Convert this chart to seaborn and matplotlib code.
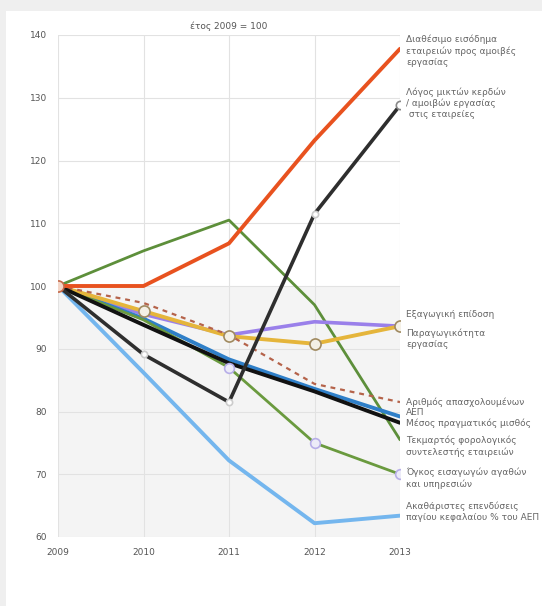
import pandas as pd
import seaborn as sns
import matplotlib.pyplot as plt
from matplotlib.patches import Rectangle

# =========================================================
# 1. DATA (index, year 2009 = 100)
# =========================================================
years = [2009, 2010, 2011, 2012, 2013]

diathesimo = [100, 100, 106.8, 123.2, 137.8]
logos_kerdon = [100, 89.1, 81.5, 111.5, 128.8]
tekmartos = [100, 105.6, 110.5, 97.0, 75.5]
exagogi = [100, 95.5, 92.2, 94.3, 93.6]
paragogikotita = [100, 96.0, 92.0, 90.8, 93.6]
apasxoloumenoi = [100, 97.3, 92.2, 84.4, 81.5]
aep = [100, 94.8, 88.3, 83.6, 79.2]
misthos = [100, 93.8, 87.7, 83.2, 78.2]
eisagoges = [100, 94.6, 87.0, 75.0, 70.0]
ependyseis = [100, 86.2, 72.2, 62.2, 63.4]

series_names = [
    'Διαθέσιμο εισόδημα\nεταιρειών προς αμοιβές\nεργασίας',
    'Λόγος μικτών κερδών\n/ αμοιβών εργασίας\n στις εταιρείες',
    'Τεκμαρτός φορολογικός\nσυντελεστής εταιρειών',
    'Εξαγωγική επίδοση',
    'Παραγωγικότητα\nεργασίας',
    'Αριθμός απασχολουμένων',
    'ΑΕΠ',
    'Μέσος πραγματικός μισθός',
    'Όγκος εισαγωγών αγαθών\nκαι υπηρεσιών',
    'Ακαθάριστες επενδύσεις\nπαγίου κεφαλαίου % του ΑΕΠ',
]
series_values = [diathesimo, logos_kerdon, tekmartos, exagogi, paragogikotita,
                 apasxoloumenoi, aep, misthos, eisagoges, ependyseis]

rows = []
for name, vals in zip(series_names, series_values):
    for yr, v in zip(years, vals):
        rows.append({'Έτος': yr, 'Δείκτης': v, 'Σειρά': name})
df = pd.DataFrame(rows)

# =========================================================
# 2. STYLES
# =========================================================
styles = {
    series_names[0]: dict(color='#e8521f', lw=2.8, z=6),
    series_names[1]: dict(color='#2e2e2e', lw=2.6, z=7),
    series_names[2]: dict(color='#5d8f3a', lw=2.0, z=4),
    series_names[3]: dict(color='#9a80ea', lw=2.6, z=4),
    series_names[4]: dict(color='#e5b53b', lw=2.8, z=5),
    series_names[5]: dict(color='#b5634a', lw=1.6, z=5, ls=(0, (2.2, 2.2))),
    series_names[6]: dict(color='#2f7fc8', lw=2.8, z=4),
    series_names[7]: dict(color='#111111', lw=2.8, z=5),
    series_names[8]: dict(color='#6a9a3e', lw=2.0, z=4),
    series_names[9]: dict(color='#74b6ee', lw=2.8, z=4),
}

# label top positions (data units) on the right side, same order as series_names
label_tops = [140.0, 131.7, 76.1, 96.2, 93.3, 82.2, 80.5, 78.9, 71.0, 65.7]

# =========================================================
# 3. PLOT
# =========================================================
sns.set_theme(style="white")
plt.rcParams['font.family'] = ['DejaVu Sans']

fig = plt.figure(figsize=(5.42, 6.06), dpi=100, facecolor='#efefef')
fig.patches.append(Rectangle((6 / 542, 0), 1, 595 / 606, transform=fig.transFigure,
                             facecolor='white', edgecolor='none', zorder=-10))
ax = fig.add_axes([58 / 542, 69 / 606, 342 / 542, 502 / 606])
ax.set_facecolor('white')

ax.axhspan(60, 100, color='#f4f4f4', zorder=0, lw=0)

for name in series_names:
    st = styles[name]
    sub = df[df['Σειρά'] == name]
    sns.lineplot(data=sub, x='Έτος', y='Δείκτης', ax=ax, color=st['color'],
                 linewidth=st['lw'], linestyle=st.get('ls', '-'), zorder=st['z'],
                 legend=False)

# open circle markers
def markers(vals, idx, edge, size, face='white', z=8):
    ax.plot([years[i] for i in idx], [vals[i] for i in idx], 'o', ms=size,
            mfc=face, mec=edge, mew=1.2, zorder=z, ls='none')

markers(diathesimo, [0], '#c46a4a', 8, face='#f3d6c8')
markers(paragogikotita, [1, 2, 3, 4], '#a08a60', 8, face='#f4f0e6')
markers(logos_kerdon, [1, 2, 3], '#cccccc', 4.5)
markers(logos_kerdon, [4], '#888888', 6)
markers(eisagoges, [2, 3, 4], '#b7aee8', 7, face='#ecebf8')

# right-side labels
trans = ax.get_yaxis_transform()
for name, top in zip(series_names, label_tops):
    ax.text(1.018, top, name, transform=trans, ha='left', va='top',
            fontsize=6.5, color='#666666', linespacing=1.3, clip_on=False)

ax.set_xlim(2009, 2013)
ax.set_ylim(60, 140)
ax.set_xticks(years)
ax.set_yticks(range(60, 141, 10))
ax.grid(True, color='#e2e2e2', lw=0.8, zorder=1)
ax.set_axisbelow(True)
for s in ax.spines.values():
    s.set_visible(False)
ax.tick_params(axis='both', labelsize=6.5, colors='#555555', length=0)
ax.tick_params(axis='x', pad=8)
ax.tick_params(axis='y', pad=8)
ax.set_xlabel('')
ax.set_ylabel('')
ax.set_title('έτος 2009 = 100', fontsize=6.5, color='#555555', pad=4)

fig.savefig('out.png', dpi=100, facecolor=fig.get_facecolor())
